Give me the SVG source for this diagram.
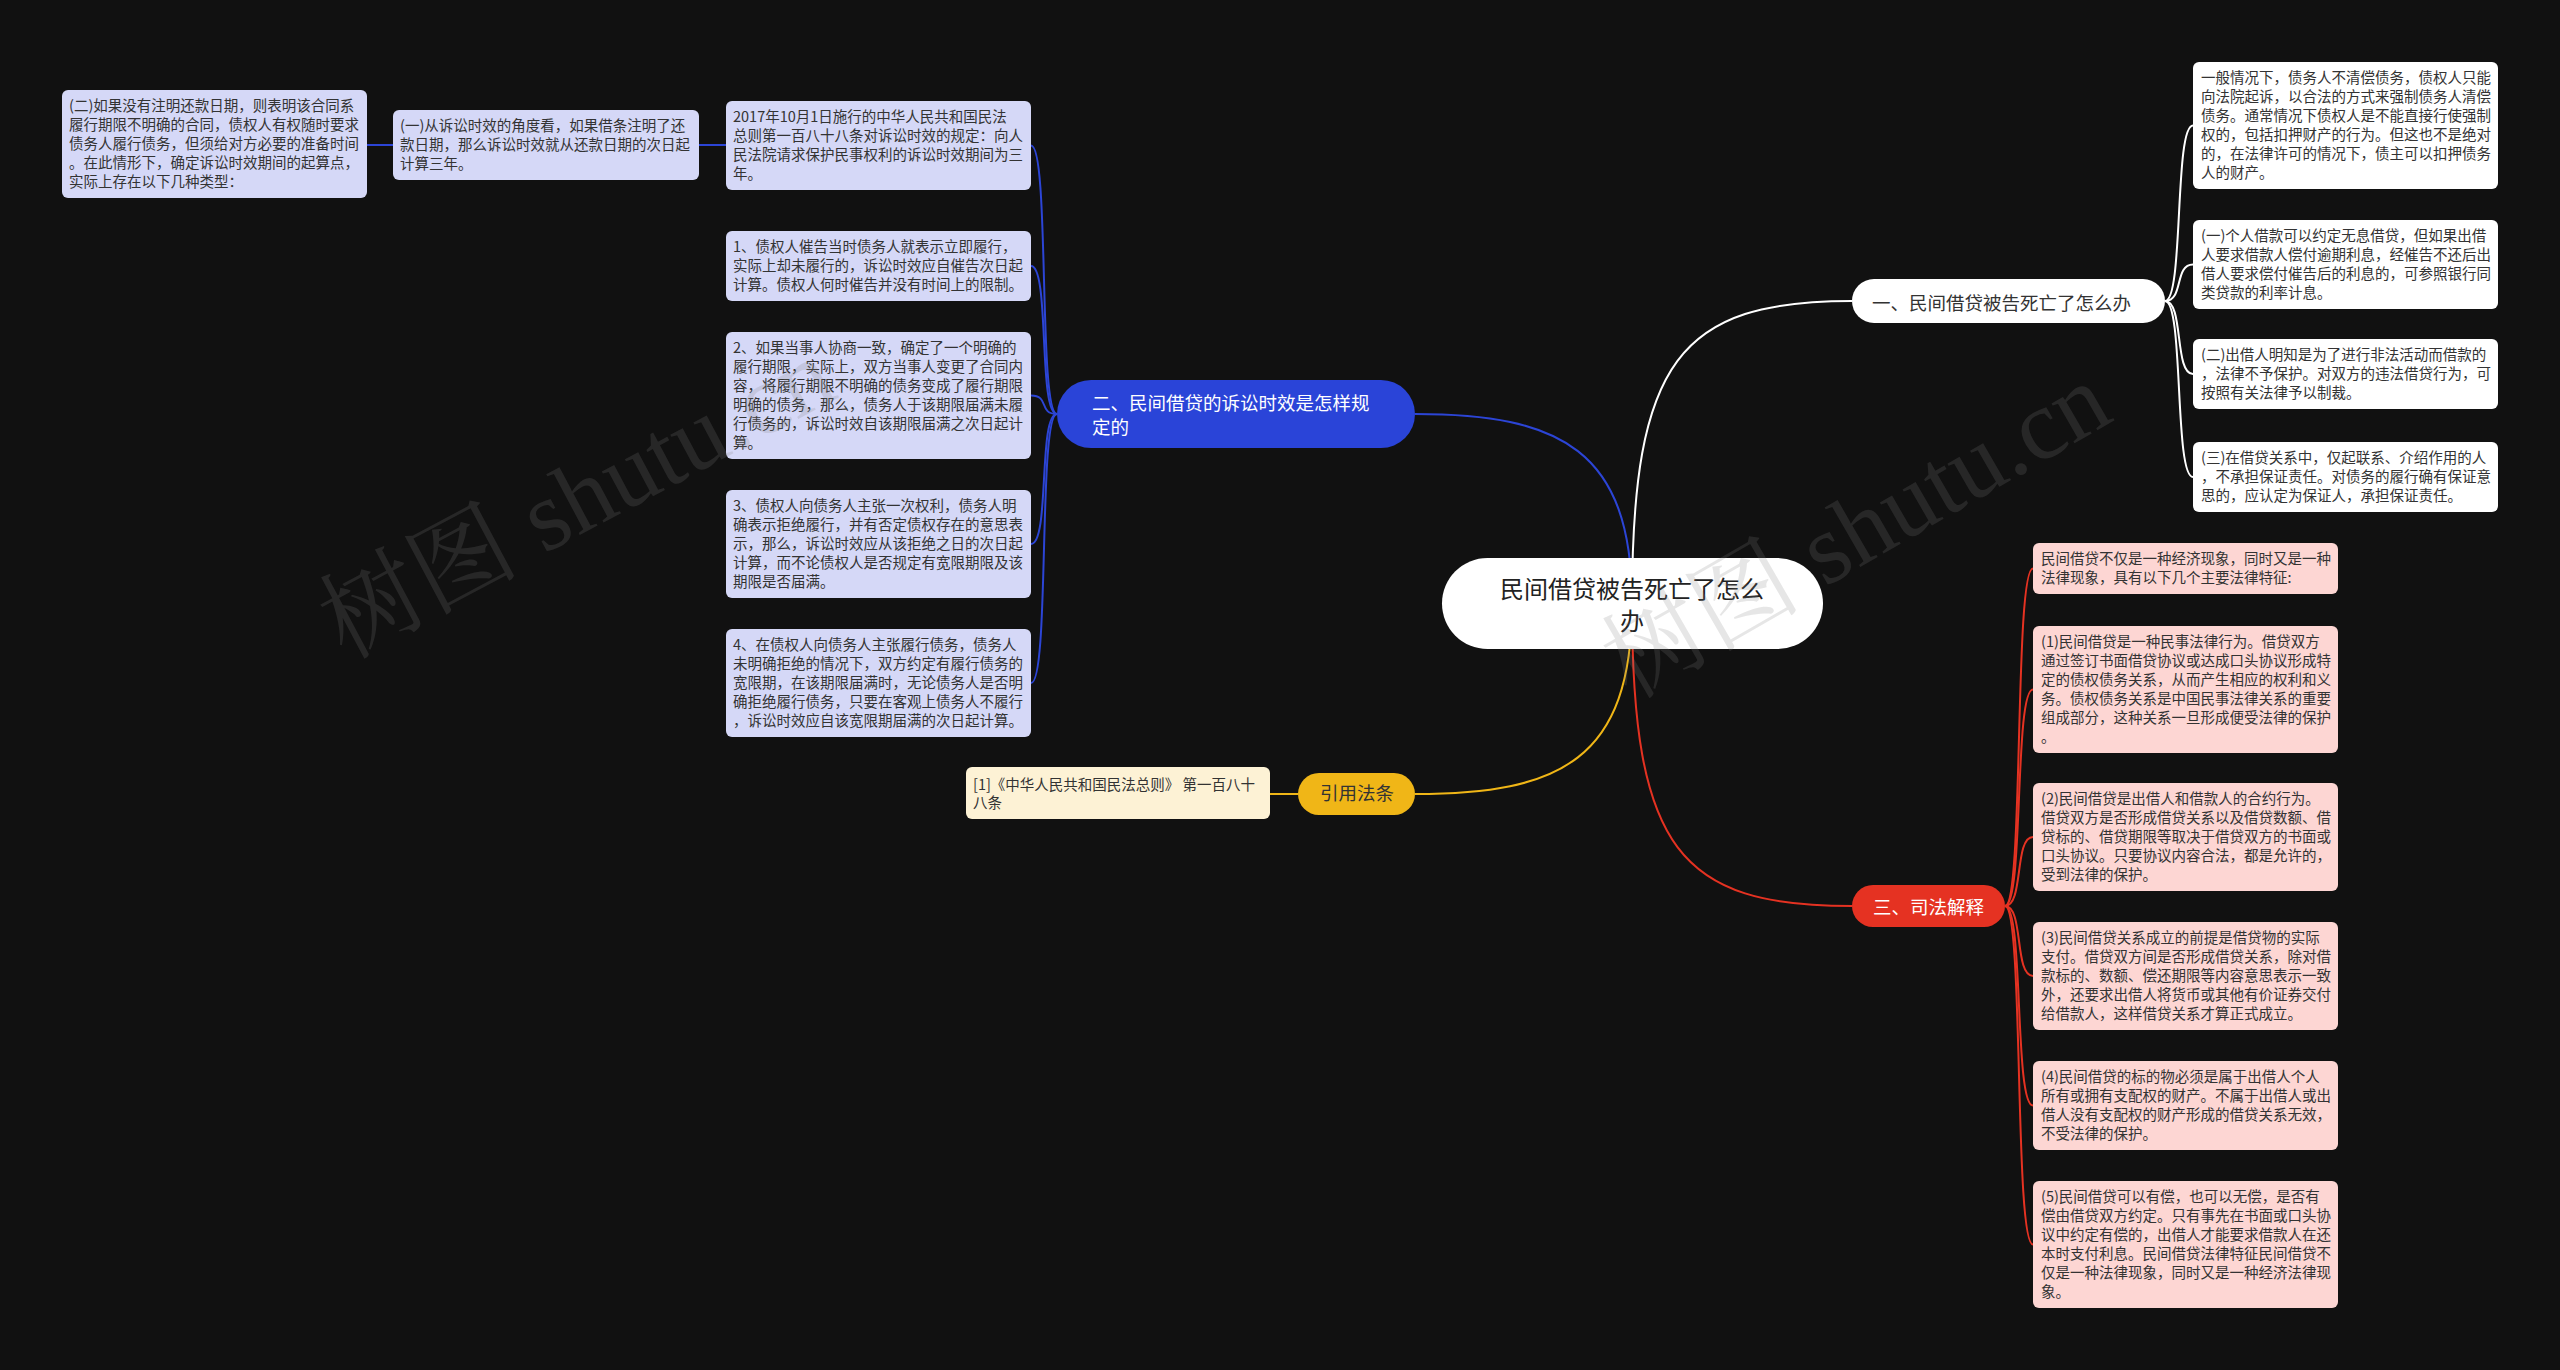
<svg xmlns="http://www.w3.org/2000/svg" width="2560" height="1370" viewBox="0 0 2560 1370">
<style>
.lt{font-family:"Noto Sans CJK SC","Noto Sans",sans-serif;font-size:14.5px;fill:#333}
.bt{font-family:"Noto Sans CJK SC","Noto Sans",sans-serif;font-size:18.5px}
.blue{fill:#d5d8f7}
.red{fill:#fdd6d3}
.white{fill:#ffffff}
.cream{fill:#fdf2d5}
.cb{fill:none;stroke:#2c45d6;stroke-width:2}
.cw{fill:none;stroke:#ffffff;stroke-width:2}
.cy{fill:none;stroke:#f0b617;stroke-width:2}
.cr{fill:none;stroke:#e53222;stroke-width:2}
.wm{font-family:"Liberation Serif","Noto Serif CJK SC","Noto Sans CJK SC",serif;font-size:100px;fill:#808080;fill-opacity:0.2}
</style>
<rect x="0" y="0" width="2560" height="1370" fill="#111111"/>
<g id="connectors">
<path class="cw" d="M1632,603 C1632,360 1680,301 1852,301"/>
<path class="cb" d="M1632,603 C1632,450 1560,414 1415,414"/>
<path class="cy" d="M1632,603 C1632,760 1560,794 1415,794"/>
<path class="cr" d="M1632,603 C1632,850 1680,906 1852,906"/>
<path class="cw" d="M2165,301 C2184,301 2174,125.5 2193,125.5"/>
<path class="cw" d="M2165,301 C2184,301 2174,264.5 2193,264.5"/>
<path class="cw" d="M2165,301 C2184,301 2174,374 2193,374"/>
<path class="cw" d="M2165,301 C2184,301 2174,477 2193,477"/>
<path class="cr" d="M2005,906 C2024,906 2014,568.5 2033,568.5"/>
<path class="cr" d="M2005,906 C2024,906 2014,689.5 2033,689.5"/>
<path class="cr" d="M2005,906 C2024,906 2014,837 2033,837"/>
<path class="cr" d="M2005,906 C2024,906 2014,976 2033,976"/>
<path class="cr" d="M2005,906 C2024,906 2014,1105.5 2033,1105.5"/>
<path class="cr" d="M2005,906 C2024,906 2014,1244.5 2033,1244.5"/>
<path class="cb" d="M1057,414 C1038,414 1050,145.5 1031,145.5"/>
<path class="cb" d="M1057,414 C1038,414 1050,266 1031,266"/>
<path class="cb" d="M1057,414 C1038,414 1050,395.5 1031,395.5"/>
<path class="cb" d="M1057,414 C1038,414 1050,544 1031,544"/>
<path class="cb" d="M1057,414 C1038,414 1050,683 1031,683"/>
<path class="cb" d="M726,145 L699,145"/>
<path class="cb" d="M393,145 L367,145"/>
<path class="cy" d="M1298,794 L1270,794"/>
</g>
<g id="root">
<rect x="1442" y="558" width="381" height="91" rx="45.5" fill="#ffffff"/>
<text x="1632" y="598" text-anchor="middle" style="font-family:'Noto Sans CJK SC',sans-serif;font-size:24px;fill:#222">民间借贷被告死亡了怎么</text>
<text x="1632" y="630" text-anchor="middle" style="font-family:'Noto Sans CJK SC',sans-serif;font-size:24px;fill:#222">办</text>
</g>
<g id="branch1">
<rect x="1852" y="279" width="313" height="44" rx="22" fill="#ffffff"/>
<text class="bt" x="1872" y="309.5" fill="#333">一、民间借贷被告死亡了怎么办</text>
</g>
<g id="branch2">
<rect x="1057" y="380" width="358" height="68" rx="34" fill="#2a44d8"/>
<text class="bt" x="1092" y="409.5" fill="#ffffff">二、民间借贷的诉讼时效是怎样规</text>
<text class="bt" x="1092" y="433.5" fill="#ffffff">定的</text>
</g>
<g id="branch3">
<rect x="1298" y="773" width="117" height="42" rx="21" fill="#f0b617"/>
<text class="bt" x="1320" y="800" fill="#333">引用法条</text>
</g>
<g id="branch4">
<rect x="1852" y="885" width="153" height="42" rx="21" fill="#e53222"/>
<text class="bt" x="1873" y="914" fill="#ffffff">三、司法解释</text>
</g>
<g id="leaf-cite">
<rect class="cream" x="966" y="767" width="304" height="52" rx="6"/>
<text class="lt" x="973" y="790">[1]《中华人民共和国民法总则》 第一百八十</text>
<text class="lt" x="973" y="808">八条</text>
</g>
<g id="leaf-er">
<rect class="blue" x="62" y="90" width="305" height="108" rx="6"/>
<text class="lt" x="69" y="111">(二)如果没有注明还款日期，则表明该合同系</text>
<text class="lt" x="69" y="130">履行期限不明确的合同，债权人有权随时要求</text>
<text class="lt" x="69" y="149">债务人履行债务，但须给对方必要的准备时间</text>
<text class="lt" x="69" y="168">。在此情形下，确定诉讼时效期间的起算点，</text>
<text class="lt" x="69" y="187">实际上存在以下几种类型：</text>
</g>
<g id="leaf-yi">
<rect class="blue" x="393" y="110" width="306" height="70" rx="6"/>
<text class="lt" x="400" y="131">(一)从诉讼时效的角度看，如果借条注明了还</text>
<text class="lt" x="400" y="150">款日期，那么诉讼时效就从还款日期的次日起</text>
<text class="lt" x="400" y="169">计算三年。</text>
</g>
<g id="leaf-a">
<rect class="blue" x="726" y="101" width="305" height="89" rx="6"/>
<text class="lt" x="733" y="122">2017年10月1日施行的中华人民共和国民法</text>
<text class="lt" x="733" y="141">总则第一百八十八条对诉讼时效的规定：向人</text>
<text class="lt" x="733" y="160">民法院请求保护民事权利的诉讼时效期间为三</text>
<text class="lt" x="733" y="179">年。</text>
</g>
<g id="leaf-b">
<rect class="blue" x="726" y="231" width="305" height="70" rx="6"/>
<text class="lt" x="733" y="252">1、债权人催告当时债务人就表示立即履行，</text>
<text class="lt" x="733" y="271">实际上却未履行的，诉讼时效应自催告次日起</text>
<text class="lt" x="733" y="290">计算。债权人何时催告并没有时间上的限制。</text>
</g>
<g id="leaf-c">
<rect class="blue" x="726" y="332" width="305" height="127" rx="6"/>
<text class="lt" x="733" y="353">2、如果当事人协商一致，确定了一个明确的</text>
<text class="lt" x="733" y="372">履行期限，实际上，双方当事人变更了合同内</text>
<text class="lt" x="733" y="391">容，将履行期限不明确的债务变成了履行期限</text>
<text class="lt" x="733" y="410">明确的债务，那么，债务人于该期限届满未履</text>
<text class="lt" x="733" y="429">行债务的，诉讼时效自该期限届满之次日起计</text>
<text class="lt" x="733" y="448">算。</text>
</g>
<g id="leaf-d">
<rect class="blue" x="726" y="490" width="305" height="108" rx="6"/>
<text class="lt" x="733" y="511">3、债权人向债务人主张一次权利，债务人明</text>
<text class="lt" x="733" y="530">确表示拒绝履行，并有否定债权存在的意思表</text>
<text class="lt" x="733" y="549">示，那么，诉讼时效应从该拒绝之日的次日起</text>
<text class="lt" x="733" y="568">计算，而不论债权人是否规定有宽限期限及该</text>
<text class="lt" x="733" y="587">期限是否届满。</text>
</g>
<g id="leaf-e">
<rect class="blue" x="726" y="629" width="305" height="108" rx="6"/>
<text class="lt" x="733" y="650">4、在债权人向债务人主张履行债务，债务人</text>
<text class="lt" x="733" y="669">未明确拒绝的情况下，双方约定有履行债务的</text>
<text class="lt" x="733" y="688">宽限期，在该期限届满时，无论债务人是否明</text>
<text class="lt" x="733" y="707">确拒绝履行债务，只要在客观上债务人不履行</text>
<text class="lt" x="733" y="726">，诉讼时效应自该宽限期届满的次日起计算。</text>
</g>
<g id="leaf-w1">
<rect class="white" x="2193" y="62" width="305" height="127" rx="6"/>
<text class="lt" x="2201" y="83">一般情况下，债务人不清偿债务，债权人只能</text>
<text class="lt" x="2201" y="102">向法院起诉，以合法的方式来强制债务人清偿</text>
<text class="lt" x="2201" y="121">债务。通常情况下债权人是不能直接行使强制</text>
<text class="lt" x="2201" y="140">权的，包括扣押财产的行为。但这也不是绝对</text>
<text class="lt" x="2201" y="159">的，在法律许可的情况下，债主可以扣押债务</text>
<text class="lt" x="2201" y="178">人的财产。</text>
</g>
<g id="leaf-w2">
<rect class="white" x="2193" y="220" width="305" height="89" rx="6"/>
<text class="lt" x="2201" y="241">(一)个人借款可以约定无息借贷，但如果出借</text>
<text class="lt" x="2201" y="260">人要求借款人偿付逾期利息，经催告不还后出</text>
<text class="lt" x="2201" y="279">借人要求偿付催告后的利息的，可参照银行同</text>
<text class="lt" x="2201" y="298">类贷款的利率计息。</text>
</g>
<g id="leaf-w3">
<rect class="white" x="2193" y="339" width="305" height="70" rx="6"/>
<text class="lt" x="2201" y="360">(二)出借人明知是为了进行非法活动而借款的</text>
<text class="lt" x="2201" y="379">，法律不予保护。对双方的违法借贷行为，可</text>
<text class="lt" x="2201" y="398">按照有关法律予以制裁。</text>
</g>
<g id="leaf-w4">
<rect class="white" x="2193" y="442" width="305" height="70" rx="6"/>
<text class="lt" x="2201" y="463">(三)在借贷关系中，仅起联系、介绍作用的人</text>
<text class="lt" x="2201" y="482">，不承担保证责任。对债务的履行确有保证意</text>
<text class="lt" x="2201" y="501">思的，应认定为保证人，承担保证责任。</text>
</g>
<g id="leaf-r1">
<rect class="red" x="2033" y="543" width="305" height="51" rx="6"/>
<text class="lt" x="2041" y="564">民间借贷不仅是一种经济现象，同时又是一种</text>
<text class="lt" x="2041" y="583">法律现象，具有以下几个主要法律特征:</text>
</g>
<g id="leaf-r2">
<rect class="red" x="2033" y="626" width="305" height="127" rx="6"/>
<text class="lt" x="2041" y="647">(1)民间借贷是一种民事法律行为。借贷双方</text>
<text class="lt" x="2041" y="666">通过签订书面借贷协议或达成口头协议形成特</text>
<text class="lt" x="2041" y="685">定的债权债务关系，从而产生相应的权利和义</text>
<text class="lt" x="2041" y="704">务。债权债务关系是中国民事法律关系的重要</text>
<text class="lt" x="2041" y="723">组成部分，这种关系一旦形成便受法律的保护</text>
<text class="lt" x="2041" y="742">。</text>
</g>
<g id="leaf-r3">
<rect class="red" x="2033" y="783" width="305" height="108" rx="6"/>
<text class="lt" x="2041" y="804">(2)民间借贷是出借人和借款人的合约行为。</text>
<text class="lt" x="2041" y="823">借贷双方是否形成借贷关系以及借贷数额、借</text>
<text class="lt" x="2041" y="842">贷标的、借贷期限等取决于借贷双方的书面或</text>
<text class="lt" x="2041" y="861">口头协议。只要协议内容合法，都是允许的，</text>
<text class="lt" x="2041" y="880">受到法律的保护。</text>
</g>
<g id="leaf-r4">
<rect class="red" x="2033" y="922" width="305" height="108" rx="6"/>
<text class="lt" x="2041" y="943">(3)民间借贷关系成立的前提是借贷物的实际</text>
<text class="lt" x="2041" y="962">支付。借贷双方间是否形成借贷关系，除对借</text>
<text class="lt" x="2041" y="981">款标的、数额、偿还期限等内容意思表示一致</text>
<text class="lt" x="2041" y="1000">外，还要求出借人将货币或其他有价证券交付</text>
<text class="lt" x="2041" y="1019">给借款人，这样借贷关系才算正式成立。</text>
</g>
<g id="leaf-r5">
<rect class="red" x="2033" y="1061" width="305" height="89" rx="6"/>
<text class="lt" x="2041" y="1082">(4)民间借贷的标的物必须是属于出借人个人</text>
<text class="lt" x="2041" y="1101">所有或拥有支配权的财产。不属于出借人或出</text>
<text class="lt" x="2041" y="1120">借人没有支配权的财产形成的借贷关系无效，</text>
<text class="lt" x="2041" y="1139">不受法律的保护。</text>
</g>
<g id="leaf-r6">
<rect class="red" x="2033" y="1181" width="305" height="127" rx="6"/>
<text class="lt" x="2041" y="1202">(5)民间借贷可以有偿，也可以无偿，是否有</text>
<text class="lt" x="2041" y="1221">偿由借贷双方约定。只有事先在书面或口头协</text>
<text class="lt" x="2041" y="1240">议中约定有偿的，出借人才能要求借款人在还</text>
<text class="lt" x="2041" y="1259">本时支付利息。民间借贷法律特征民间借贷不</text>
<text class="lt" x="2041" y="1278">仅是一种法律现象，同时又是一种经济法律现</text>
<text class="lt" x="2041" y="1297">象。</text>
</g>
<g id="watermark">
<text class="wm" x="345" y="660" transform="rotate(-28 345 660)">树图 shutu.cn</text>
<text class="wm" x="1630" y="700" transform="rotate(-30 1630 700)">树图 shutu.cn</text>
</g>
</svg>
